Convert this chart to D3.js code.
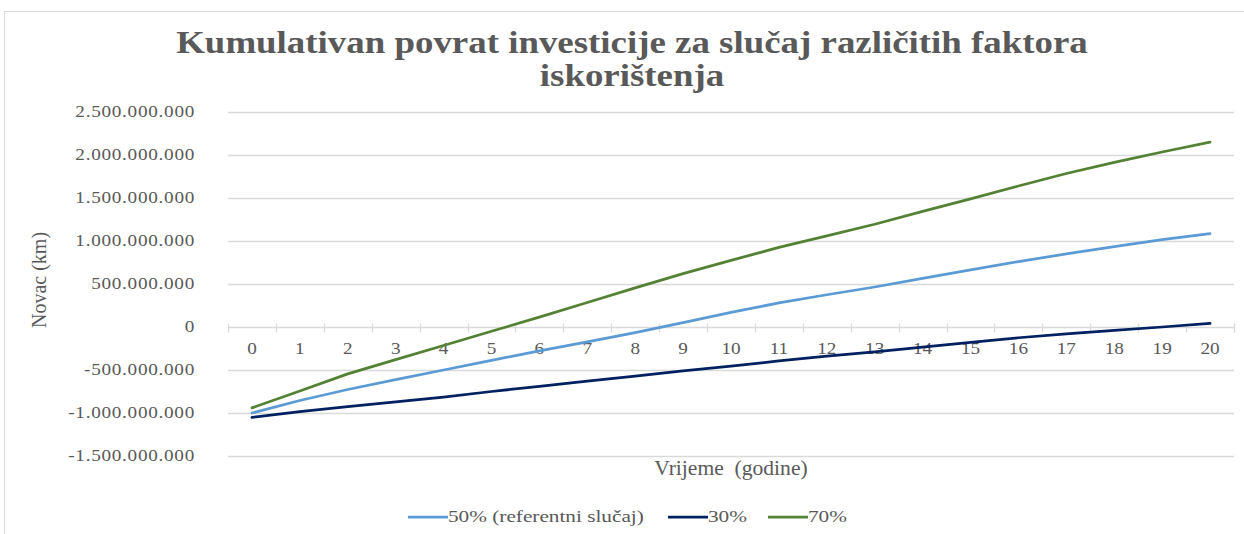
<!DOCTYPE html>
<html>
<head>
<meta charset="utf-8">
<script src="https://cdn.jsdelivr.net/npm/d3@7"></script>
<style>
  html, body { margin: 0; padding: 0; background: #fff; }
  svg { display: block; }
</style>
</head>
<body>
<svg id="chart" width="1244" height="534"></svg>
<script>
// Years of operation
const years = d3.range(0, 21);

// Cumulative return (kn) for each capacity factor
const series50 = [-1000e6, -855e6, -727e6, -613e6, -500e6, -388e6, -278e6, -172e6, -65e6, 50e6, 170e6, 280e6, 375e6, 465e6, 565e6, 665e6, 760e6, 850e6, 935e6, 1015e6, 1085e6];
const series30 = [-1050e6, -985e6, -925e6, -870e6, -815e6, -750e6, -690e6, -630e6, -570e6, -510e6, -455e6, -395e6, -340e6, -290e6, -235e6, -180e6, -125e6, -80e6, -40e6, 0, 42e6];
const series70 = [-940e6, -745e6, -545e6, -380e6, -215e6, -50e6, 115e6, 285e6, 455e6, 620e6, 775e6, 925e6, 1060e6, 1195e6, 1345e6, 1490e6, 1640e6, 1785e6, 1915e6, 2035e6, 2150e6];

const seriesNames = ["50% (referentni slučaj)", "30%", "70%"];
const yTicks = [2500e6, 2000e6, 1500e6, 1000e6, 500e6, 0, -500e6, -1000e6, -1500e6];

const titleLines = ["Kumulativan povrat investicije za slučaj različitih faktora", "iskorištenja"];
const yTitle = "Novac (km)";
const xTitle = "Vrijeme  (godine)";

const colors = ["#5B9BD5", "#002060", "#548235"];
const allSeries = [series50, series30, series70];

const FONT = "'Liberation Serif', 'Times New Roman', serif";
const INK = "#595959";

const svg = d3.select("#chart");
const W = 1244, H = 534;
const plot = { left: 228, right: 1234, top: 112, bottom: 456 };

// Chart frame
svg.append("path")
  .attr("d", `M4.5,${H} V11.5 H${W}`)
  .attr("fill", "none").attr("stroke", "#D9D9D9").attr("stroke-width", 1);

const x = d3.scaleBand().domain(years).range([plot.left, plot.right]).padding(0);
const y = d3.scaleLinear().domain([-1500e6, 2500e6]).range([plot.bottom, plot.top]);

// Text drawn with a slight horizontal stretch
function stretchedText(g, tx, ty, str, anchor, sx) {
  return g.append("text")
    .attr("transform", `translate(${tx},${ty}) scale(${sx},1)`)
    .attr("text-anchor", anchor)
    .attr("font-family", FONT)
    .attr("fill", INK)
    .style("white-space", "pre")
    .text(str);
}

// Horizontal gridlines (all except zero, which is the category axis)
svg.append("g")
  .selectAll("line")
  .data(yTicks.filter(d => d !== 0))
  .join("line")
  .attr("x1", plot.left).attr("x2", plot.right)
  .attr("y1", d => Math.round(y(d)) + 0.5).attr("y2", d => Math.round(y(d)) + 0.5)
  .attr("stroke", "#D9D9D9").attr("stroke-width", 1.3);

// Y tick labels
const fmt = v => d3.format(",")(v).replace(/,/g, ".").replace("−", "-");
const yLab = svg.append("g");
yTicks.forEach(t => {
  stretchedText(yLab, 195, y(t) + 5, fmt(t), "end", 1.2)
    .attr("font-size", 16).attr("letter-spacing", 0.6);
});

// Category axis at zero
const y0 = Math.round(y(0)) + 0.5;
const axG = svg.append("g");
axG.append("line")
  .attr("x1", plot.left).attr("x2", plot.right)
  .attr("y1", y0).attr("y2", y0)
  .attr("stroke", "#D9D9D9").attr("stroke-width", 1.3);
const bounds = years.map(d => x(d)).concat([plot.right]);
axG.selectAll("line.tick")
  .data(bounds)
  .join("line")
  .attr("class", "tick")
  .attr("x1", d => Math.round(d) + 0.5).attr("x2", d => Math.round(d) + 0.5)
  .attr("y1", y0 - 4).attr("y2", y0 + 5)
  .attr("stroke", "#D9D9D9").attr("stroke-width", 1.3);
years.forEach(d => {
  stretchedText(axG, x(d) + x.bandwidth() / 2, y0 + 26, String(d), "middle", 1.2).attr("font-size", 16);
});

// Series lines
const line = d3.line()
  .x((d, i) => x(years[i]) + x.bandwidth() / 2)
  .y(d => y(d));
svg.append("g")
  .selectAll("path")
  .data(allSeries)
  .join("path")
  .attr("d", d => line(d))
  .attr("fill", "none")
  .attr("stroke", (d, i) => colors[i])
  .attr("stroke-width", 2.75)
  .attr("stroke-linecap", "round")
  .attr("stroke-linejoin", "round");

// Title
titleLines.forEach((t, i) => {
  stretchedText(svg, 632, 53 + i * 33, t, "middle", 1.19)
    .attr("font-size", 31).attr("font-weight", "bold");
});

// Axis titles
svg.append("text")
  .attr("transform", `translate(46,${(plot.top + plot.bottom) / 2 - 4}) rotate(-90)`)
  .attr("text-anchor", "middle")
  .attr("font-family", FONT)
  .attr("fill", INK)
  .attr("font-size", 20)
  .text(yTitle);
stretchedText(svg, 731, 475, xTitle, "middle", 1.08).attr("font-size", 20);

// Legend
const legend = svg.append("g");
const legendX = [408, 668, 768];
seriesNames.forEach((n, i) => {
  legend.append("line")
    .attr("x1", legendX[i]).attr("x2", legendX[i] + 40)
    .attr("y1", 517).attr("y2", 517)
    .attr("stroke", colors[i]).attr("stroke-width", 2.75);
  stretchedText(legend, legendX[i] + 40, 522, n, "start", 1.25).attr("font-size", 17);
});
</script>
</body>
</html>
